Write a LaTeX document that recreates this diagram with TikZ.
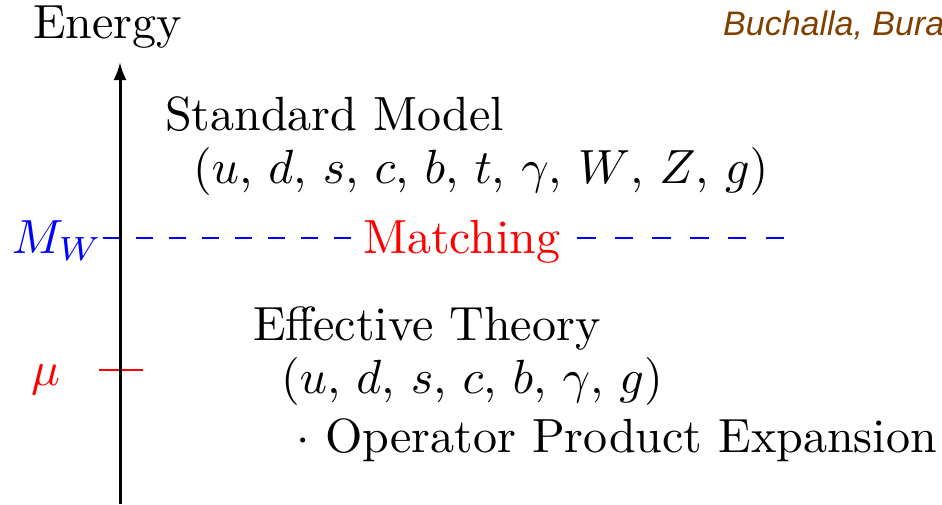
\documentclass[tikz,border=0pt]{standalone}
\usepackage{fontspec}
\newfontfamily\authfont{Liberation Sans}
\usetikzlibrary{arrows.meta}
\definecolor{authbrown}{RGB}{128,64,0}
\tikzset{
  txt/.style={anchor=base west, inner sep=0pt, outer sep=0pt, scale=4.8, transform shape, font=\fontsize{10}{12}\selectfont},
  axisline/.style={line width=3pt, -{Latex[length=18pt,width=13pt]}},
  matchdash/.style={blue, line width=2.8pt},
  ticklabel/.style={red, line width=2.3pt}
}
\begin{document}
\begin{tikzpicture}[x=1pt,y=-1pt]
\useasboundingbox (0,0) rectangle (942,504);
\begin{scope}
\clip (0,0) rectangle (942,504);
% axis
\coordinate (axbot) at (120,504);
\coordinate (axtop) at (120,62);
\node[txt] (energy) at (33,38) {Energy};
\node[anchor=base west, inner sep=0pt, text=authbrown, font=\authfont\itshape\fontsize{34}{40}\selectfont] (auth) at (723,35) {Buchalla, Buras, Lautenbacher};
% matching line
\coordinate (mwL) at (103,238);
\coordinate (mwA) at (351,238);
\coordinate (mwB) at (577,238);
\coordinate (mwR) at (784,238);
\draw[matchdash, dash pattern=on 17pt off 16pt] (mwL) -- (mwA);
\draw[matchdash, dash pattern=on 18.5pt off 19.2pt] (mwB) -- (mwR);
\node[txt, text=blue] (mw) at (12,253) {$M_W$};
\node[txt, text=red] (match) at (363,253) {Matching};
% mu tick
\coordinate (tickL) at (99,370);
\coordinate (tickR) at (143,370);
\draw[ticklabel] (tickL) -- (tickR);
\node[txt, text=red] (mu) at (31,385) {$\mu$};
\draw[axisline] (axbot) -- (axtop);
% texts
\node[txt] (sm) at (165,130) {Standard Model};
\node[txt] (smf) at (193,183) {$(u$, $d$, $s$, $c$, $b$, $t$, $\gamma$, $W$, $Z$, $g)$};
\node[txt] (et) at (253,340) {Effective Theory};
\node[txt] (etf) at (281,393) {$(u$, $d$, $s$, $c$, $b$, $\gamma$, $g)$};
\node[txt] (ope) at (296,452) {$\cdot$ Operator Product Expansion};
\end{scope}
\end{tikzpicture}
\end{document}
